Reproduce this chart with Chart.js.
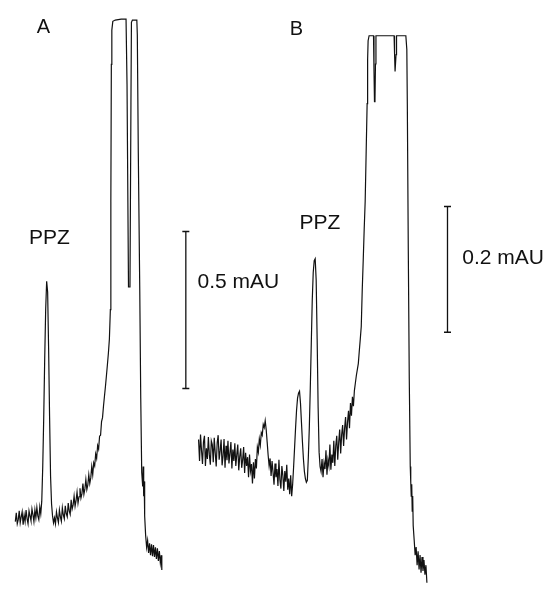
<!DOCTYPE html>
<html>
<head>
<meta charset="utf-8">
<script src="https://cdn.jsdelivr.net/npm/chart.js@4/dist/chart.umd.min.js"></script>
<style>
  html, body { margin: 0; padding: 0; background: #ffffff; }
  #wrap { width: 551px; height: 590px; }
</style>
</head>
<body>
<div id="wrap"><canvas id="c" width="551" height="590"></canvas></div>
<script>
// ---- Trace A (time in min, absorbance in mAU) ----
const timeA = [
  0.20,0.22,0.24,0.26,0.28,0.30,0.32,0.34,0.36,0.38,0.40,0.42,0.44,0.46,0.48,0.50,0.52,0.54,0.56,0.58,0.60,0.62,0.64,0.66,0.68,0.70,0.72,
  0.74,0.76,0.78,0.80,0.82,0.84,0.86,0.88,0.90,0.92,0.94,0.96,0.98,1.00,
  1.02,1.04,1.06,1.08,1.10,1.12,1.14,1.16,1.18,1.20,
  1.22,1.24,1.26,1.28,1.30,1.32,1.34,1.36,1.38,1.40,
  1.42,1.44,1.46,1.48,1.50,1.52,1.54,1.56,1.58,1.60,
  1.62,1.64,1.66,1.68,1.70,1.72,1.74,1.76,1.78,1.80,
  1.82,1.84,1.86,1.88,1.90,1.92,1.94,1.96,1.98,
  2.00,2.02,2.04,2.06,2.08,2.10,2.12,2.14,2.15,2.16,2.17,2.19,2.24,2.36,2.46,2.48,2.51,2.54,2.56,2.57,2.59,2.68,2.69,2.71,
  2.74,2.76,2.78,2.80,2.81,2.82,2.83,2.84,2.86,2.88,2.90,2.92,2.94,2.96,2.98,3.00,3.02,3.04,3.06,3.08,3.10,3.12,3.14,3.16,3.18,3.19
];
const absA = [
  -0.009,0.019,-0.016,-0.003,0.025,-0.013,0.006,0.022,-0.019,0.012,-0.009,0.028,0.000,-0.016,0.025,0.009,-0.006,0.031,0.013,-0.009,0.028,0.003,0.036,0.009,-0.003,0.038,0.016,
  0.056,0.166,0.322,0.509,0.666,0.756,0.722,0.541,0.322,0.134,0.047,0.009,-0.013,0.003,
  -0.016,0.022,0.003,-0.012,0.028,0.006,-0.008,0.035,0.012,0.000,
  0.041,0.016,0.006,0.050,0.025,0.014,0.060,0.031,0.044,0.072,
  0.040,0.058,0.085,0.050,0.070,0.097,0.066,0.080,0.112,0.078,
  0.095,0.125,0.093,0.108,0.140,0.112,0.130,0.166,0.140,0.178,
  0.168,0.206,0.192,0.233,0.222,0.263,0.266,0.309,0.322,
  0.359,0.391,0.422,0.456,0.491,0.528,0.572,0.666,1.009,1.447,1.556,1.584,1.588,1.591,1.591,1.384,0.738,0.738,1.322,1.581,1.588,1.588,1.541,1.166,
  0.728,0.384,0.147,0.103,0.166,0.072,0.119,0.009,-0.053,-0.091,-0.069,-0.109,-0.078,-0.116,-0.081,-0.119,-0.084,-0.122,-0.091,-0.128,-0.094,-0.134,-0.103,-0.141,-0.116,-0.163
];

// ---- Trace B (time in min, absorbance in mAU) ----
const timeB = [
  3.94,3.96,3.98,4.00,4.02,4.04,4.06,4.08,4.10,4.12,
  4.14,4.16,4.18,4.20,4.22,4.24,4.26,4.28,4.30,4.32,
  4.34,4.36,4.38,4.40,4.42,4.44,4.46,4.48,4.50,4.52,
  4.54,4.56,4.58,4.60,4.62,4.64,4.66,4.68,4.70,4.72,
  4.74,4.76,4.78,4.80,4.82,4.84,4.86,4.88,4.90,4.92,
  4.94,4.96,4.98,5.00,5.02,5.04,5.06,5.08,5.10,5.12,
  5.14,5.16,5.18,5.20,5.22,5.24,5.26,5.28,5.30,5.32,
  5.34,5.36,5.38,5.40,5.42,5.44,5.46,5.48,5.50,5.52,
  5.54,5.56,5.58,5.60,5.62,5.64,5.66,5.68,5.70,5.72,
  5.74,5.76,5.78,5.80,5.82,5.84,5.86,5.88,5.90,5.92,
  5.94,5.96,5.98,6.00,6.02,6.04,6.06,6.08,6.10,6.12,
  6.14,6.16,6.18,6.20,6.22,6.24,6.26,6.28,6.30,6.32,
  6.34,6.36,6.38,6.40,6.42,6.44,6.46,6.48,6.50,6.52,
  6.54,6.56,6.58,6.60,6.62,6.64,6.66,6.68,6.70,6.72,
  6.74,6.76,6.78,6.80,6.82,6.84,6.86,6.88,6.90,6.92,
  6.94,6.96,6.98,7.00,7.02,7.04,7.06,7.08,7.10,7.12,
  7.14,7.16,
  7.20,7.22,7.24,7.26,7.28,7.30,7.32,7.34,7.36,7.38,
  7.39,7.40,7.42,
  7.51,7.52,7.53,7.54,7.55,7.56,
  7.93,7.94,7.95,7.96,7.97,7.98,
  8.17,8.19,8.20,8.22,8.24,8.26,8.27,8.28,8.29,8.30,8.31,8.32,
  8.34,8.36,8.38,8.40,8.42,8.44,8.46,8.48,8.50,8.52,8.54,8.56,8.58,8.60
];
const absB = [
  0.012,-0.022,0.020,-0.005,-0.027,0.008,0.018,-0.030,-0.002,-0.019,
  0.016,-0.012,-0.028,0.010,0.004,-0.024,0.015,-0.009,-0.031,0.007,
  0.019,-0.020,-0.006,0.012,-0.029,-0.014,0.013,-0.033,0.002,-0.021,
  0.010,-0.026,-0.010,0.008,-0.034,-0.004,-0.022,0.006,-0.030,-0.012,
  0.004,-0.037,-0.015,-0.002,-0.033,-0.020,0.000,-0.041,-0.009,-0.030,
  -0.016,-0.048,-0.012,-0.038,-0.027,-0.058,-0.024,-0.050,-0.019,-0.034,
  0.000,-0.008,0.013,0.003,0.023,0.019,0.036,0.031,0.042,0.028,
  0.008,-0.013,-0.030,-0.018,-0.046,-0.022,-0.040,-0.060,-0.026,-0.048,
  -0.035,-0.062,-0.020,-0.052,-0.066,-0.030,-0.045,-0.070,-0.038,-0.055,
  -0.028,-0.068,-0.050,-0.075,-0.045,-0.078,-0.059,-0.031,0.000,0.031,
  0.059,0.078,0.086,0.089,0.070,0.039,0.008,-0.019,-0.039,-0.050,
  -0.056,-0.053,-0.016,0.031,0.094,0.164,0.234,0.278,0.297,0.300,
  0.266,0.172,0.063,-0.008,-0.031,-0.039,-0.019,-0.048,-0.025,-0.035,
  -0.005,-0.044,-0.020,-0.030,0.004,-0.036,-0.012,-0.025,0.010,-0.030,
  0.002,0.018,-0.020,0.008,0.028,-0.010,0.020,0.035,0.002,0.030,
  0.048,0.012,0.040,0.058,0.030,0.070,0.050,0.080,0.065,0.090,
  0.102,0.114,
  0.133,0.153,0.172,0.192,0.250,0.297,0.347,0.391,0.469,0.547,
  0.617,0.647,0.655,
  0.655,0.600,0.550,0.552,0.610,0.655,
  0.655,0.625,0.598,0.598,0.625,0.655,
  0.655,0.633,0.547,0.313,0.109,-0.031,-0.055,-0.078,-0.059,-0.102,-0.078,-0.125,
  -0.148,-0.172,-0.159,-0.188,-0.166,-0.195,-0.172,-0.200,-0.175,-0.197,-0.180,-0.203,-0.188,-0.216
];

// ---- Scale bars (mAU) ----
const scaleBarA = { time: 3.68, from: 0.415, to: 0.915, label: '0.5 mAU' };
const scaleBarB = { time: 9.02, from: 0.183, to: 0.383, label: '0.2 mAU' };

// ---- Text labels ----
const panelLabels = ['A', 'B'];
const peakLabel = 'PPZ';

const toPts = (xs, ys) => xs.map((x, i) => ({ x: x, y: ys[i] }));

const lineStyle = {
  showLine: true, pointRadius: 0, borderColor: '#111111', borderWidth: 1.2,
  tension: 0, fill: false
};
const barStyle = {
  showLine: true, borderColor: '#111111', borderWidth: 1.3,
  pointStyle: 'line', pointRadius: 3.5, pointBorderWidth: 1.5,
  pointBorderColor: '#111111', tension: 0
};

const textPlugin = {
  id: 'textLabels',
  afterDatasetsDraw(chart, args, opts) {
    const ctx = chart.ctx;
    ctx.save();
    ctx.fillStyle = '#111111';
    ctx.textBaseline = 'alphabetic';
    ctx.textAlign = 'left';
    opts.items.forEach(it => {
      ctx.font = it.font;
      const px = chart.scales.x.getPixelForValue(it.x);
      const py = chart.scales[it.axis].getPixelForValue(it.y);
      ctx.fillText(it.text, px, py);
    });
    ctx.restore();
  }
};
const bgPlugin = {
  id: 'bg',
  beforeDraw(chart) {
    const ctx = chart.ctx;
    ctx.save();
    ctx.fillStyle = '#ffffff';
    ctx.fillRect(0, 0, chart.width, chart.height);
    ctx.restore();
  }
};

const labelFont = '21px "Liberation Sans", Arial, sans-serif';
const panelFont = '20px "Liberation Sans", Arial, sans-serif';

new Chart(document.getElementById('c'), {
  type: 'scatter',
  data: {
    datasets: [
      Object.assign({ label: 'A', data: toPts(timeA, absA), yAxisID: 'yA' }, lineStyle),
      Object.assign({ label: 'B', data: toPts(timeB, absB), yAxisID: 'yB' }, lineStyle),
      Object.assign({ label: scaleBarA.label, yAxisID: 'yA',
        data: [{ x: scaleBarA.time, y: scaleBarA.from }, { x: scaleBarA.time, y: scaleBarA.to }] }, barStyle),
      Object.assign({ label: scaleBarB.label, yAxisID: 'yB',
        data: [{ x: scaleBarB.time, y: scaleBarB.from }, { x: scaleBarB.time, y: scaleBarB.to }] }, barStyle)
    ]
  },
  options: {
    responsive: false,
    animation: false,
    layout: { padding: 0 },
    scales: {
      x: { type: 'linear', min: 0, max: 11.02, display: false },
      yA: { type: 'linear', min: -0.209375, max: 1.634375, display: false },
      yB: { type: 'linear', min: -0.21875, max: 0.703125, display: false }
    },
    plugins: {
      legend: { display: false },
      tooltip: { enabled: false },
      textLabels: {
        items: [
          { text: panelLabels[0], x: 0.64, y: 1.547, axis: 'yA', font: panelFont },
          { text: peakLabel, x: 0.48, y: 0.875, axis: 'yA', font: labelFont },
          { text: scaleBarA.label, x: 3.92, y: 0.734, axis: 'yA', font: labelFont },
          { text: panelLabels[1], x: 5.80, y: 0.656, axis: 'yB', font: panelFont },
          { text: peakLabel, x: 6.00, y: 0.348, axis: 'yB', font: labelFont },
          { text: scaleBarB.label, x: 9.32, y: 0.292, axis: 'yB', font: labelFont }
        ]
      }
    }
  },
  plugins: [bgPlugin, textPlugin]
});
</script>
</body>
</html>
